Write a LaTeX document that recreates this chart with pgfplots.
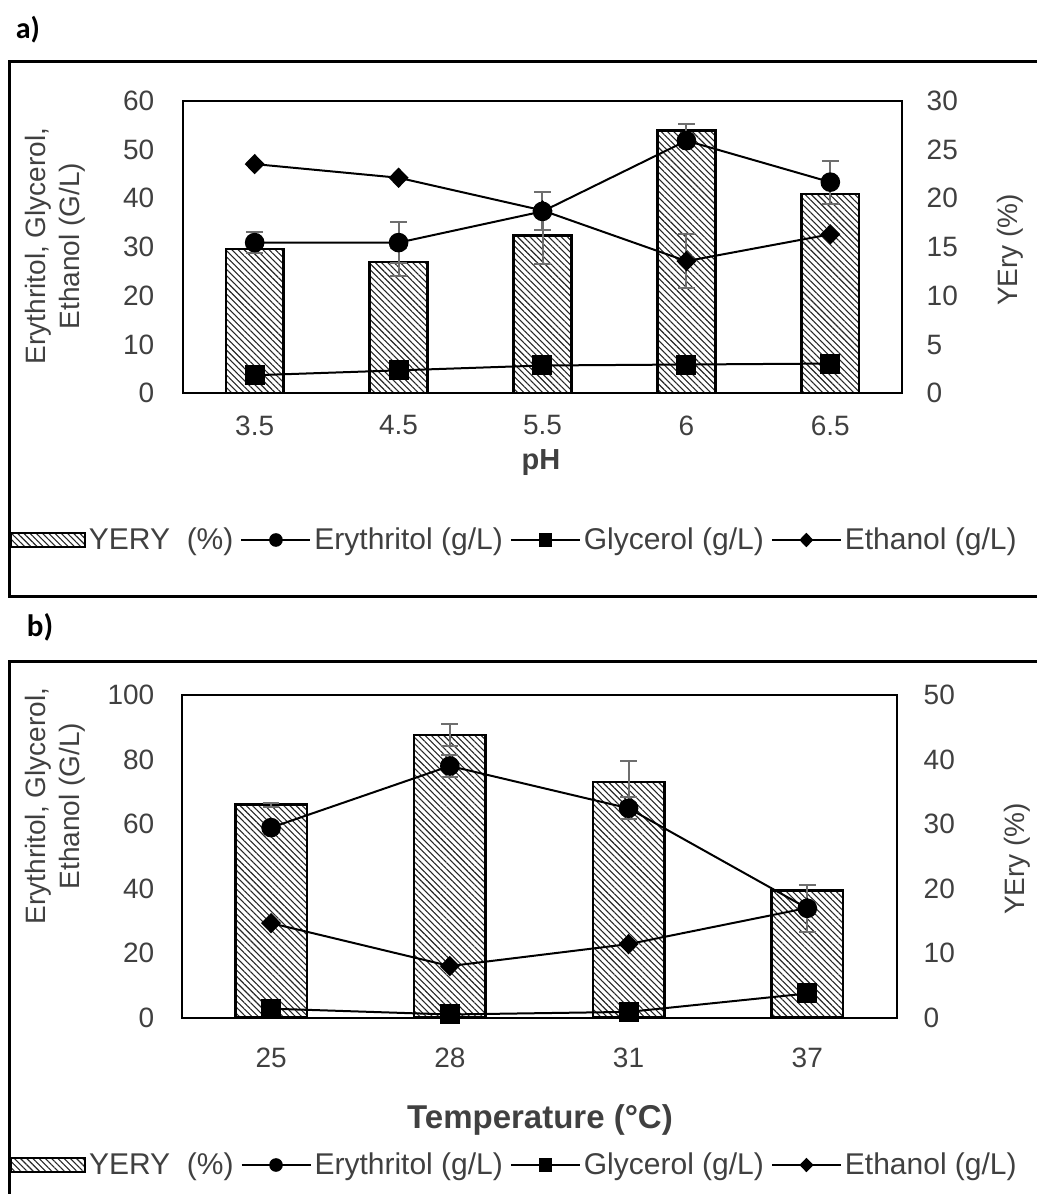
\documentclass[border=0pt]{standalone}
\usepackage{fontspec}
\setmainfont{Liberation Sans}
\newfontfamily\carlito{Carlito}
\usepackage{pgfplots}
\pgfplotsset{compat=1.18}
\usepackage{pgfplotstable}
\usetikzlibrary{patterns.meta}

\definecolor{txt}{HTML}{404040}
\definecolor{err}{HTML}{6E6E6E}

\pgfplotstableread{
x ery gly eth yery
0 30.9 3.7 47.0 14.8
1 30.9 4.7 44.2 13.45
2 37.3 5.7 37.5 16.2
3 51.8 5.9 27.1 26.95
4 43.3 6.1 32.6 20.45
}\dataA

\pgfplotstableread{
x ery gly eth yery
0 58.9 2.8 29.3 33.0
1 78.0 1.0 16.0 43.8
2 64.9 1.8 22.8 36.5
3 33.9 7.5 34.0 19.7
}\dataB

\pgfplotsset{
  common/.style={scale only axis, anchor=south west, enlargelimits=false,
    major tick length=0pt, minor tick num=0,
    tick label style={font=\fontsize{14}{16}\selectfont, text=txt},
    /pgf/number format/assume math mode=true},
  hatch/.style={draw=black, line width=1.3pt,
    pattern={Lines[angle=-45,distance=2.2pt,line width=0.55pt]}, pattern color=black!85},
  barleg/.style={hatch, line width=1pt,
    legend image code/.code={\draw[##1] (0pt,-3.5pt) rectangle (37pt,3.5pt);}},
  linelegend/.style={legend image code/.code={\draw[mark repeat=2,mark phase=2,##1,mark size=2.9pt] plot coordinates {(0pt,0pt) (17.25pt,0pt) (34.5pt,0pt)};}},
  lineplot/.style={black, line width=1pt, mark options={solid, fill=black}, linelegend},
  errstyle/.style={draw=none, mark=none, forget plot,
    error bars/.cd, y dir=both, y explicit,
    error bar style={draw=err, line width=1pt},
    error mark options={rotate=90, draw=err, line width=1pt, mark size=4.2pt}},
  legstyle/.style={legend style={draw=none, fill=none, legend columns=4,
    font=\fontsize{15}{18}\selectfont, text=txt, nodes={inner sep=1.5pt},
    /tikz/every even column/.append style={column sep=2pt}}},
}

\begin{document}
\begin{tikzpicture}
\useasboundingbox (0,0) rectangle (518.5pt,597pt);

% ---------------- panel a ----------------
\begin{axis}[common, at={(91.35pt,400.35pt)}, width=359.8pt, height=146.3pt,
  xmin=-0.5, xmax=4.5, ymin=0, ymax=30, ytick={0,5,...,30},
  axis x line=none, axis y line*=right, y axis line style={draw=none},
  yticklabel style={anchor=west, inner sep=0pt, xshift=12pt}]
\addplot[ybar, bar width=0.4, hatch] table[x=x,y=yery]{\dataA};
\addplot[errstyle] coordinates {(1,13.45) +- (0,1.4) (2,16.2) +- (0,2.9) (3,26.95) +- (0,0.7) (4,20.45) +- (0,1.0)};
\end{axis}

\begin{axis}[common, legstyle, at={(91.35pt,400.35pt)}, width=359.8pt, height=146.3pt,
  xmin=-0.5, xmax=4.5, ymin=0, ymax=60, ytick={0,10,...,60},
  xtick={0,...,4}, xticklabels={3.5,4.5,5.5,6,6.5},
  ytick pos=left, xtick pos=bottom, axis line style={line width=1pt},
  yticklabel style={anchor=east, inner sep=0pt, xshift=-14pt},
  xticklabel style={anchor=north, inner sep=0pt, yshift=-11pt},
  legend style={at={(0.4615,-0.5014)}, anchor=center}]
\addlegendimage{barleg}
\addlegendentry{YERY\ \ (\%)}
\addplot[errstyle] coordinates {(0,30.9) +- (0,2.2) (1,30.9) +- (0,4.2) (2,37.3) +- (0,3.9) (3,51.8) +- (0,0.5) (4,43.3) +- (0,4.4)};
\addplot[errstyle] coordinates {(3,27.1) +- (0,5.6)};
\addplot[lineplot, mark=*, mark size=4.4pt] table[x=x,y=ery]{\dataA};
\addlegendentry{Erythritol (g/L)}
\addplot[lineplot, mark=square*, mark size=4.5pt] table[x=x,y=gly]{\dataA};
\addlegendentry{Glycerol (g/L)}
\addplot[lineplot, mark=diamond*, mark size=4.4pt, mark options={xscale=1.3}] table[x=x,y=eth]{\dataA};
\addlegendentry{Ethanol (g/L)}
\end{axis}

% ---------------- panel b ----------------
\begin{axis}[common, at={(90.85pt,88.15pt)}, width=357.5pt, height=161.35pt,
  xmin=-0.5, xmax=3.5, ymin=0, ymax=50, ytick={0,10,...,50},
  axis x line=none, axis y line*=right, y axis line style={draw=none},
  yticklabel style={anchor=west, inner sep=0pt, xshift=13.3pt}]
\addplot[ybar, bar width=0.4, hatch] table[x=x,y=yery]{\dataB};
\addplot[errstyle] coordinates {(0,33.0) +- (0,0.3) (1,43.8) +- (0,1.7) (2,36.5) +- (0,3.2)};
\end{axis}

\begin{axis}[common, legstyle, at={(90.85pt,88.15pt)}, width=357.5pt, height=161.35pt,
  xmin=-0.5, xmax=3.5, ymin=0, ymax=100, ytick={0,20,...,100},
  xtick={0,...,3}, xticklabels={25,28,31,37},
  ytick pos=left, xtick pos=bottom, axis line style={line width=1pt},
  yticklabel style={anchor=east, inner sep=0pt, xshift=-13.5pt},
  xticklabel style={anchor=north, inner sep=0pt, yshift=-15pt},
  legend style={at={(0.466,-0.4565)}, anchor=center}]
\addlegendimage{barleg}
\addlegendentry{YERY\ \ (\%)}
\addplot[errstyle] coordinates {(1,78.0) +- (0,3.3) (2,64.9) +- (0,3.4) (3,33.9) +- (0,7.2)};
\addplot[lineplot, mark=*, mark size=4.4pt] table[x=x,y=ery]{\dataB};
\addlegendentry{Erythritol (g/L)}
\addplot[lineplot, mark=square*, mark size=4.5pt] table[x=x,y=gly]{\dataB};
\addlegendentry{Glycerol (g/L)}
\addplot[lineplot, mark=diamond*, mark size=4.4pt, mark options={xscale=1.3}] table[x=x,y=eth]{\dataB};
\addlegendentry{Ethanol (g/L)}
\end{axis}

% ---------------- texts and frames ----------------
\draw[line width=1.5pt] (4.5pt,298.5pt) rectangle (530pt,566pt);
\draw[line width=1.5pt] (4.5pt,-10pt) rectangle (530pt,266pt);

\node[font=\carlito\bfseries\fontsize{15}{17}\selectfont] at (14pt,582pt) {a)};
\node[font=\carlito\bfseries\fontsize{15.5}{17}\selectfont] at (20pt,283.5pt) {b)};

\node[rotate=90, align=center, font=\fontsize{14}{17}\selectfont, text=txt] at (27.5pt,474pt) {Erythritol, Glycerol,\\Ethanol (G/L)};
\node[rotate=90, font=\fontsize{14}{17}\selectfont, text=txt] at (505pt,472pt) {YEry (\%)};
\node[font=\bfseries\fontsize{14.5}{17}\selectfont, text=txt] at (270.5pt,365.5pt) {pH};

\node[rotate=90, align=center, font=\fontsize{14}{17}\selectfont, text=txt] at (27.5pt,194pt) {Erythritol, Glycerol,\\Ethanol (G/L)};
\node[rotate=90, font=\fontsize{14}{17}\selectfont, text=txt] at (508.5pt,167.5pt) {YEry (\%)};
\node[font=\bfseries\fontsize{16.5}{18}\selectfont, text=txt] at (270pt,37pt) {Temperature (°C)};
\end{tikzpicture}
\end{document}
